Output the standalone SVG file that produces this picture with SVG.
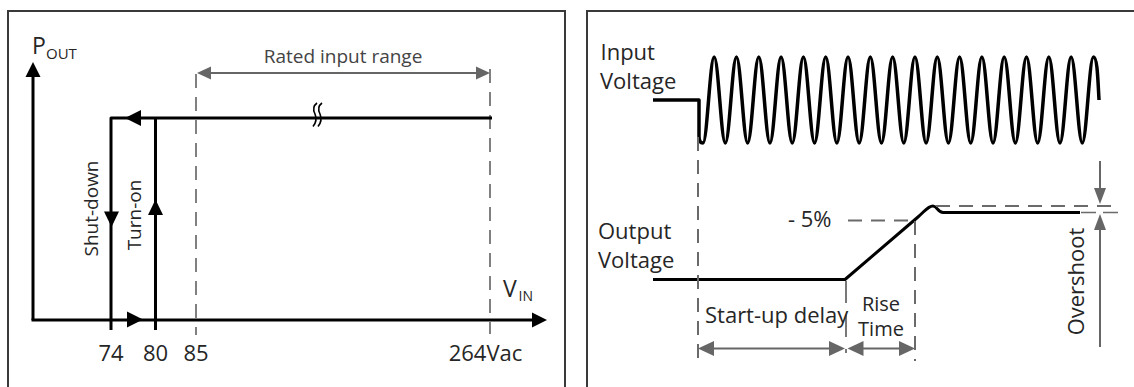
<svg xmlns="http://www.w3.org/2000/svg" width="1134" height="387" viewBox="0 0 1134 387">
<style>
.frame{fill:none;stroke:#3a3a3a;stroke-width:2}
.blk{fill:none;stroke:#000;stroke-width:3;stroke-linejoin:round;stroke-linecap:butt}
.thin{fill:none;stroke:#000;stroke-width:2}
.dash{fill:none;stroke:#808080;stroke-width:2;stroke-dasharray:14 9}
.dashd{fill:none;stroke:#6a6a6a;stroke-width:2;stroke-dasharray:14 9}
.gl{fill:none;stroke:#666;stroke-width:2}
.ah{fill:#000}
.gh{fill:#666}
text{font-family:"Open Sans","Noto Sans",sans-serif;fill:#262626}
.t19{font-size:19px}
.t20{font-size:20px}
.t22{font-size:22px}
</style>
<rect class="frame" x="8" y="11" width="557" height="385"/>
<rect class="frame" x="587" y="11" width="560" height="385"/>

<g id="left-panel">
  <g id="axes">
    <line class="blk" x1="33" y1="320" x2="33" y2="75"/>
    <polygon class="ah" points="33,62 25.5,77 40.5,77"/>
    <line class="blk" x1="31.5" y1="320" x2="533" y2="320"/>
    <polygon class="ah" points="547,320 532,312.5 532,327.5"/>
    <text x="32" y="53.5" style="font-size:23px">P<tspan x="46" y="58.5" style="font-size:15px">OUT</tspan></text>
    <text x="503" y="297" style="font-size:23px">V<tspan x="518.5" y="301" style="font-size:14px">IN</tspan></text>
  </g>
  <g id="rated-range">
    <line class="dash" x1="196" y1="74" x2="196" y2="335"/>
    <line class="dash" x1="490" y1="69" x2="490" y2="334"/>
    <line class="gl" x1="205" y1="73" x2="481" y2="73"/>
    <polygon class="gh" points="197,73 211,66.5 211,79.5"/>
    <polygon class="gh" points="490,73 476,66.5 476,79.5"/>
    <text class="t19" x="343" y="63" text-anchor="middle" style="fill:#444">Rated input range</text>
  </g>
  <g id="hysteresis">
    <path class="blk" d="M111,330 V118 H492"/>
    <path class="blk" d="M155.5,330 V118"/>
    <polygon class="ah" points="125,118 141,110 141,126"/>
    <polygon class="ah" points="111.5,227 104,211.5 119,211.5"/>
    <polygon class="ah" points="155.5,199.5 148,215 163,215"/>
    <polygon class="ah" points="143,319.5 127,311.5 127,327.5"/>
    <path class="thin" style="stroke-width:1.6" d="M317,103 C313,106 313,110 315,114 C317,119 316,123 313,126.5"/>
    <path class="thin" style="stroke-width:1.6" d="M322,103 C318,106 318,110 320,114 C322,119 321,123 318,126.5"/>
    <text class="t19" transform="translate(97.5,208.5) rotate(-90)" text-anchor="middle">Shut-down</text>
    <text class="t19" transform="translate(140.5,215) rotate(-90)" text-anchor="middle">Turn-on</text>
  </g>
  <g id="ticks">
    <text class="t22" x="111" y="361" text-anchor="middle">74</text>
    <text class="t22" x="155.5" y="361" text-anchor="middle">80</text>
    <text class="t22" x="196" y="361" text-anchor="middle">85</text>
    <text class="t22" x="485.5" y="361" text-anchor="middle">264Vac</text>
  </g>
</g>

<g id="right-panel">
  <g id="input-voltage">
    <text class="t22" x="600.5" y="60">Input</text>
    <text class="t22" x="600" y="89">Voltage</text>
    <path class="blk" style="stroke-width:3.5" d="M653,100 H699 V136 Q699,143 703,143 c 4.063,0 7.092,-86 11.155,-86
      s 7.092,86 11.155,86 s 7.092,-86 11.155,-86 s 7.092,86 11.155,86 s 7.092,-86 11.155,-86
      s 7.092,86 11.155,86 s 7.092,-86 11.155,-86 s 7.092,86 11.155,86 s 7.092,-86 11.155,-86
      s 7.092,86 11.155,86 s 7.092,-86 11.155,-86 s 7.092,86 11.155,86 s 7.092,-86 11.155,-86
      s 7.092,86 11.155,86 s 7.092,-86 11.155,-86 s 7.092,86 11.155,86 s 7.092,-86 11.155,-86
      s 7.092,86 11.155,86 s 7.092,-86 11.155,-86 s 7.092,86 11.155,86 s 7.092,-86 11.155,-86
      s 7.092,86 11.155,86 s 7.092,-86 11.155,-86 s 7.092,86 11.155,86 s 7.092,-86 11.155,-86
      s 7.092,86 11.155,86 s 7.092,-86 11.155,-86 s 7.092,86 11.155,86 s 7.092,-86 11.155,-86
      s 7.092,86 11.155,86 s 7.092,-86 11.155,-86 s 7.092,86 11.155,86 s 7.092,-86 11.155,-86
      s 7.092,86 11.155,86 s 7.092,-86 11.155,-86
      s 4.5,25 5.6,43"/>
  </g>
  <g id="output-voltage">
    <text class="t22" x="598" y="239">Output</text>
    <text class="t22" x="598" y="268">Voltage</text>
    <path class="blk" d="M653,279.5 H845 L918,217 C925,211 928,206 933,206 C937,206 938,212.5 943,212.5 H1080"/>
    <text class="t22" x="788" y="227">- 5%</text>
  </g>
  <g id="guides">
    <line class="dashd" x1="698" y1="137" x2="698" y2="358"/>
    <line class="dashd" x1="915" y1="221" x2="915" y2="361"/>
    <line class="dashd" style="stroke-width:1.8;stroke-dasharray:22 12" x1="846" y1="281" x2="846" y2="353"/>
    <line class="dashd" x1="848" y1="220.5" x2="914" y2="220.5"/>
    <line class="dashd" x1="936" y1="206" x2="1113" y2="206"/>
    <line class="dashd" style="stroke-width:1.5;stroke-dasharray:15 7" x1="1081" y1="212.5" x2="1122" y2="212.5"/>
  </g>
  <g id="timing-arrows">
    <line class="gl" x1="712" y1="348.5" x2="832" y2="348.5"/>
    <polygon class="gh" points="698,348.5 714,341 714,356"/>
    <polygon class="gh" points="845,348.5 829,341 829,356"/>
    <line class="gl" x1="861" y1="348.5" x2="902" y2="348.5"/>
    <polygon class="gh" points="847.5,348.5 863.5,341 863.5,356"/>
    <polygon class="gh" points="915,348.5 899,341 899,356"/>
    <text class="t22" x="705" y="323">Start-up delay</text>
    <text class="t20" x="881" y="311" text-anchor="middle">Rise</text>
    <text class="t20" x="881" y="335.5" text-anchor="middle">Time</text>
  </g>
  <g id="overshoot">
    <line class="gl" x1="1100" y1="161" x2="1100" y2="190"/>
    <polygon class="gh" points="1100,204 1094,188 1106,188"/>
    <line class="gl" x1="1100" y1="228" x2="1100" y2="347"/>
    <polygon class="gh" points="1100,214 1094,230 1106,230"/>
    <text class="t22" transform="translate(1084,281.5) rotate(-90)" text-anchor="middle">Overshoot</text>
  </g>
</g>
</svg>
